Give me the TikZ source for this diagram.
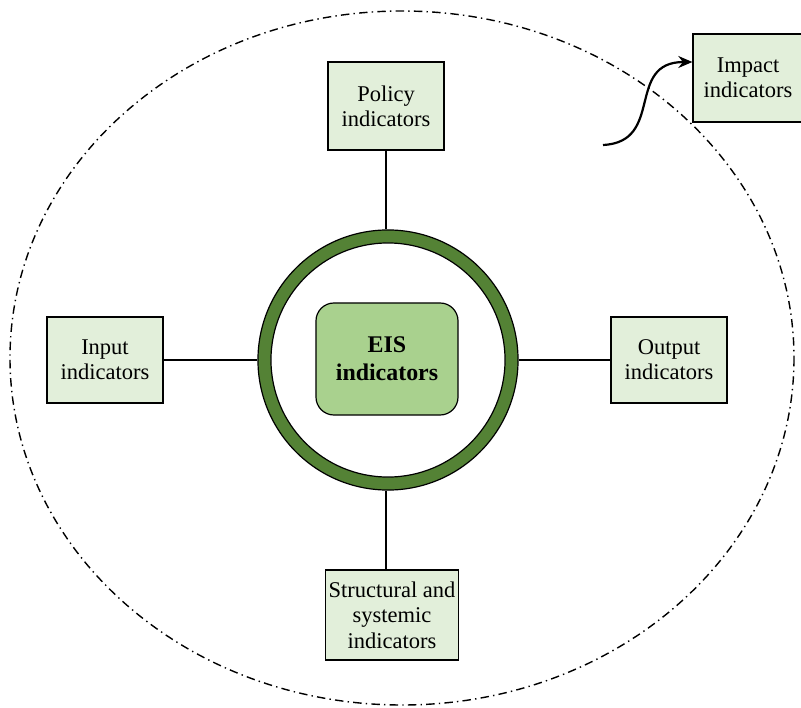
\documentclass[tikz,border=0pt]{standalone}
\usepackage{fontspec}
\setmainfont{Liberation Serif}
\usepackage{xcolor}
\usetikzlibrary{shapes.geometric, arrows, arrows.meta, positioning}

\definecolor{boxgreen}{HTML}{E2EFDA}
\definecolor{eisgreen}{HTML}{A9D18E}
\definecolor{ringgreen}{HTML}{548235}

\begin{document}
\begin{tikzpicture}[x=0.025cm, y=-0.025cm]
\tikzstyle{indicator} = [rectangle, align=center,
    minimum width=2.9cm, minimum height=2.2cm,
    text centered, draw=black, fill=boxgreen,
    line width=0.3mm, font=\fontsize{16}{18}\selectfont, inner sep=2pt]
\tikzstyle{core} = [rectangle, rounded corners=0.45cm, align=center,
    minimum width=3.55cm, minimum height=2.8cm,
    text centered, draw=black, fill=eisgreen,
    line width=0.3mm, font=\fontsize{17}{20}\selectfont\bfseries]
\tikzstyle{link} = [line width=0.3mm]
\tikzstyle{arrow} = [line width=0.55mm,-{Stealth[length=10pt,width=8.5pt]}]

\useasboundingbox (0,0) rectangle (801,708);

% --- OUTER BOUNDARY ---
\draw [line width=0.35mm, dash pattern=on 6pt off 3pt on 1pt off 3pt]
    (402,358) ellipse [x radius=392, y radius=347];

% --- CENTRAL RING ---
\node (ring) [circle, minimum size=6.5cm, draw=black, fill=ringgreen,
    line width=0.3mm] at (388,360) {};
\node (hole) [circle, minimum size=5.85cm, draw=black, fill=white,
    line width=0.3mm] at (ring) {};
\node (eis) [core] at (387,359) {EIS\\indicators};

% --- INDICATOR BOXES ---
\node (policy) [indicator] at (386,106) {Policy\\indicators};
\node (input) [indicator, minimum height=2.15cm] at (105,360) {Input\\indicators};
\node (output) [indicator, minimum height=2.15cm] at (669,360) {Output\\indicators};
\node (struct) [indicator, minimum width=3.275cm, minimum height=2.25cm]
    at (392,615) {Structural and\\systemic\\indicators};
\node (impact) [indicator, minimum width=2.75cm] at (748,78) {Impact\\indicators};

% --- CONNECTORS ---
\draw [link] (policy.south) -- (policy.south |- ring.north);
\draw [link] (input) -- (ring);
\draw [link] (output) -- (ring);
\draw [link] (ring.south -| policy.south) -- (policy.south |- struct.north);

\coordinate (start) at (603,145);
\draw [arrow] (start) .. controls (665,142) and (625,62) .. (impact.west |- 0,62);
\end{tikzpicture}
\end{document}
